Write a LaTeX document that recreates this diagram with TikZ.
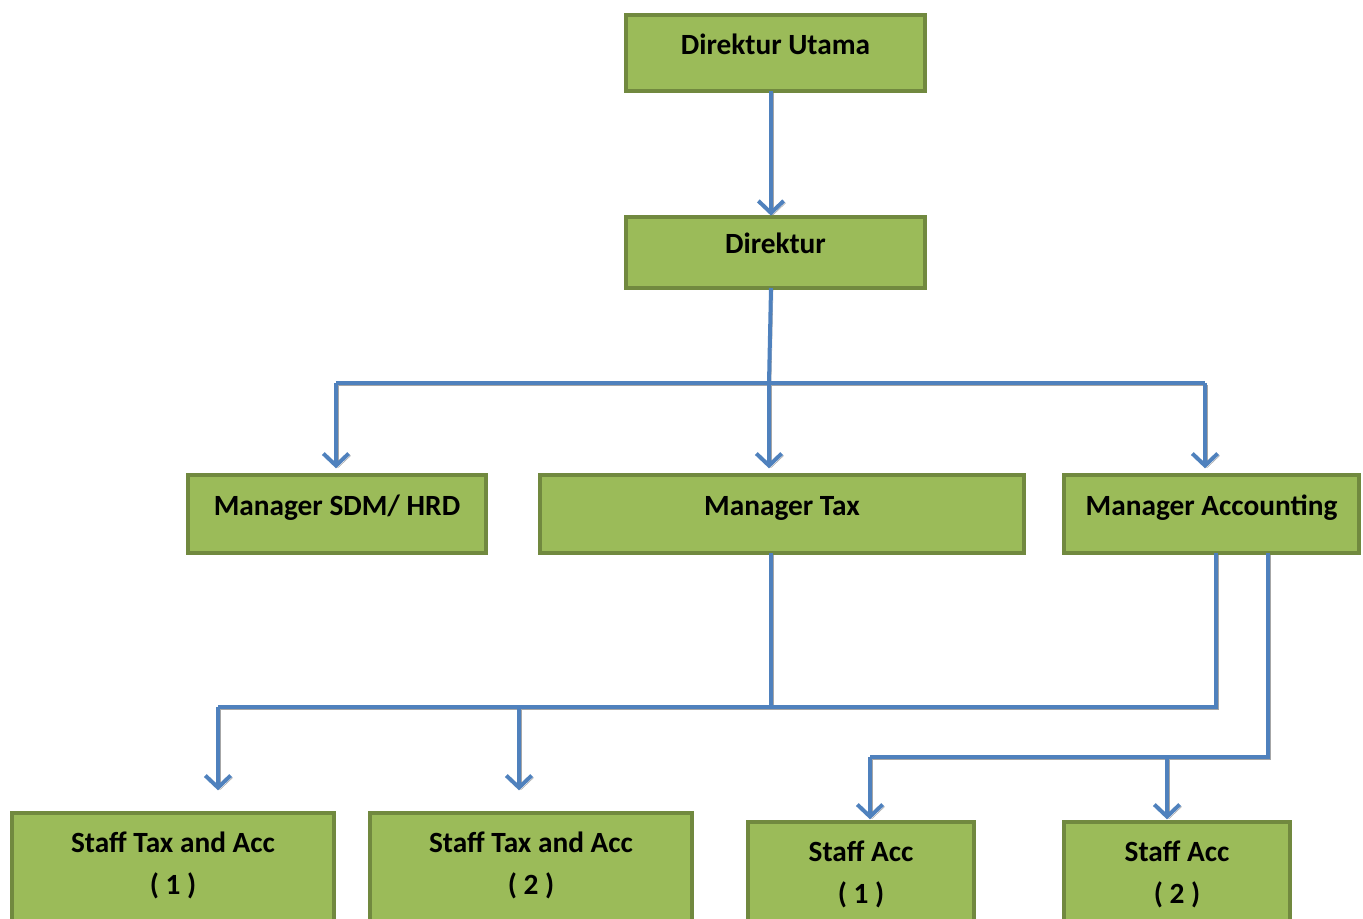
\documentclass[tikz,border=0pt]{standalone}
\usepackage{fontspec}
\setmainfont{Carlito}
\usetikzlibrary{arrows.meta}
\definecolor{boxfill}{HTML}{9BBB59}
\definecolor{boxline}{HTML}{71893F}
\definecolor{wireblue}{HTML}{4F81BD}

\begin{document}
\begin{tikzpicture}[x=0.75pt,y=-0.75pt]
	\tikzstyle{box} = [rectangle, draw=boxline, fill=boxfill, line width=3pt, 
	outer sep=0pt, inner sep=0pt, text centered, 
	font=\bfseries\fontsize{22}{31.5}\selectfont]
	\tikzstyle{head} = [box, minimum height=58.5pt, text height=15pt, text depth=12.75pt]
	\tikzstyle{staff} = [box, anchor=north, align=center, inner ysep=14pt, text depth=60pt]
	\tikzstyle{wire} = [draw=wireblue, line width=3pt, 
	preaction={draw=black!35, transform canvas={shift={(1.5pt,-1.5pt)}}}]
	\tikzstyle{arrow} = [wire, -{Straight Barb[length=9pt,width=19pt]}]
	\useasboundingbox (0,0) rectangle (1363,919);
	\clip (0,0) rectangle (1363,919);
	% top
	\node (dirUtama) [head, minimum width=224.25pt, minimum height=57pt] at (775.5,53) {Direktur Utama};
	\node (direktur) [head, minimum width=224.25pt, minimum height=53.25pt] at (775.5,252.5) {Direktur};
	% managers
	\node (managerSdm) [head, minimum width=223.5pt] at (337,514) {Manager SDM/ HRD};
	\node (managerTax) [head, minimum width=363pt] at (782,514) {Manager Tax};
	\node (managerAcc) [head, minimum width=221.25pt] at (1211.5,514) {Manager Accounting};
	% staff
	\node (staffTax1) [staff, minimum width=241.5pt] at (173,813) {Staff Tax and Acc\\( 1 )};
	\node (staffTax2) [staff, minimum width=241.5pt] at (531,813) {Staff Tax and Acc\\( 2 )};
	\node (staffAcc1) [staff, minimum width=169.5pt] at (861,822) {Staff Acc\\( 1 )};
	\node (staffAcc2) [staff, minimum width=169.5pt] at (1177,822) {Staff Acc\\( 2 )};
	% bus points
	\coordinate (busA) at (769,383);
	\coordinate (busAl) at (336,383);
	\coordinate (busAr) at (1205,383);
	\coordinate (busB) at (771,707);
	\coordinate (busBl) at (218,707);
	\coordinate (busBc) at (519,707);
	\coordinate (busBr) at (1216,707);
	\coordinate (busCl) at (870,757);
	\coordinate (busCc) at (1167,757);
	\coordinate (busCr) at (1268,757);
	% connectors
	\draw [arrow, shorten >=1pt] (dirUtama.south -| 771,0) -- (direktur.north -| 771,0);
	\draw [wire] (direktur.south -| 771,0) -- (busA);
	\draw [wire] (busAl) -- (busAr);
	\draw [arrow, shorten >=5pt] (busAl) -- (busAl |- managerSdm.north);
	\draw [arrow, shorten >=5pt] (busA) -- (busA |- managerTax.north);
	\draw [arrow, shorten >=5pt] (busAr) -- (busAr |- managerAcc.north);
	\draw [wire] (managerTax.south -| busB) -- (busB);
	\draw [wire] (managerAcc.south -| busBr) -- (busBr) -- (busBl);
	\draw [arrow, shorten >=17pt] (busBl) -- (busBl |- staffTax1.north);
	\draw [arrow, shorten >=17pt] (busBc) -- (busBc |- staffTax2.north);
	\draw [wire] (managerAcc.south -| busCr) -- (busCr) -- (busCl);
	\draw [arrow, shorten >=2pt] (busCl) -- (busCl |- staffAcc1.north);
	\draw [arrow, shorten >=2pt] (busCc) -- (busCc |- staffAcc2.north);
\end{tikzpicture}
\end{document}
